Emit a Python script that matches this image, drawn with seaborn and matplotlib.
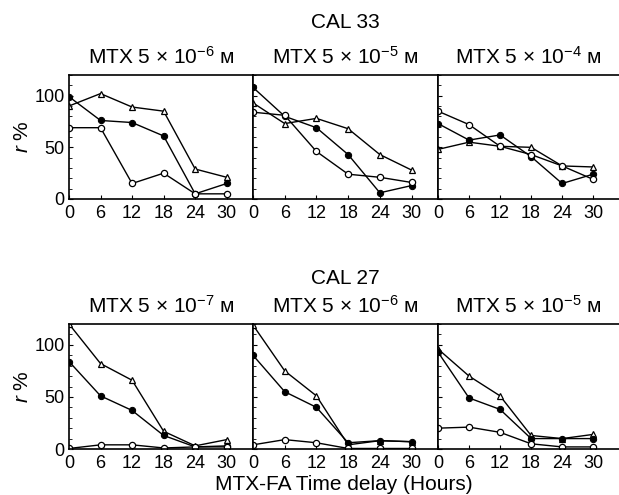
import seaborn as sns
import numpy as np
import pandas as pd
import matplotlib.pyplot as plt

sns.set_style("ticks")
plt.rcParams['font.family'] = ['Liberation Sans', 'DejaVu Sans']
plt.rcParams['mathtext.fontset'] = 'custom'
plt.rcParams['mathtext.rm'] = 'Liberation Sans'
plt.rcParams['mathtext.it'] = 'Liberation Sans:italic'
plt.rcParams['text.color'] = 'k'
plt.rcParams['xtick.color'] = 'k'
plt.rcParams['ytick.color'] = 'k'
plt.rcParams['axes.labelcolor'] = 'k'

hours = [0, 6, 12, 18, 24, 30]

# CAL 33 panels: MTX 5e-6, 5e-5, 5e-4 M
cal33_tri = [[90, 102, 89, 85, 29, 21], [93, 73, 78, 68, 43, 28], [48, 55, 51, 50, 32, 31]]
cal33_fill = [[99, 76, 74, 61, 5, 15], [108, 80, 69, 43, 6, 13], [73, 57, 62, 41, 15, 24]]
cal33_open = [[69, 69, 15, 25, 5, 5], [84, 81, 46, 24, 21, 16], [85, 72, 51, 43, 32, 19]]

# CAL 27 panels: MTX 5e-7, 5e-6, 5e-5 M
cal27_tri = [[120, 82, 66, 17, 3, 9], [119, 75, 51, 4, 8, 7], [96, 70, 51, 13, 10, 14]]
cal27_fill = [[84, 51, 37, 13, 2, 3], [90, 55, 40, 6, 8, 7], [93, 49, 38, 10, 10, 10]]
cal27_open = [[0.5, 4, 4, 1, 2, 2], [4, 9, 6, 0.5, 0.5, 0.5], [20, 21, 16, 5, 2, 2]]

cal33_conc = ["6", "5", "4"]
cal27_conc = ["7", "6", "5"]

fig = plt.figure(figsize=(6.19, 4.95), dpi=100)

lefts = [69 / 619, 253 / 619, 438 / 619]
widths = [184 / 619, 185 / 619, 181 / 619]
row_bottom = [1 - 199 / 495, 1 - 449 / 495]
row_height = [124 / 495, 125 / 495]


def draw_panel(ax, tri, fill, opn):
    df = pd.DataFrame({"h": hours, "tri": tri, "fill": fill, "open": opn})
    sns.lineplot(data=df, x="h", y="tri", ax=ax, color="k", lw=1.0, marker="^",
                 markersize=5, markerfacecolor="white", markeredgecolor="k", markeredgewidth=0.9)
    sns.lineplot(data=df, x="h", y="fill", ax=ax, color="k", lw=1.0, marker="o",
                 markersize=4.5, markerfacecolor="k", markeredgecolor="k")
    sns.lineplot(data=df, x="h", y="open", ax=ax, color="k", lw=1.0, marker="o",
                 markersize=4.5, markerfacecolor="white", markeredgecolor="k", markeredgewidth=0.9)
    ax.set_xlim(0, 35)
    ax.set_ylim(0, 120)
    ax.set_xticks(hours)
    ax.set_yticks([0, 50, 100])
    ax.set_yticks(np.arange(0, 121, 10), minor=True)
    ax.tick_params(direction="in", length=3, labelsize=13, pad=3)
    ax.tick_params(axis="x", pad=4)
    ax.tick_params(which="minor", direction="in", length=2)
    ax.set_xlabel("")
    ax.set_ylabel("")
    for s in ax.spines.values():
        s.set_linewidth(1.2)
        s.set_color("k")


rows = [(cal33_tri, cal33_fill, cal33_open, cal33_conc, "CAL 33", 22),
        (cal27_tri, cal27_fill, cal27_open, cal27_conc, "CAL 27", 278)]

for r, (tri, fill, opn, conc, name, name_y) in enumerate(rows):
    for c in range(3):
        ax = fig.add_axes([lefts[c], row_bottom[r], widths[c], row_height[r]])
        draw_panel(ax, tri[c], fill[c], opn[c])
        if c == 0:
            ax.set_ylabel("$r$ %", fontsize=15, labelpad=2)
        else:
            ax.tick_params(labelleft=False)
        if c == 2:
            ax.spines["right"].set_visible(False)
        ax.set_title("MTX 5 \u00d7 10$^{-%s}$ \u1d0d" % conc[c], fontsize=15, pad=8)
    fig.text(345 / 619, 1 - name_y / 495, name, ha="center", va="center", fontsize=15)

fig.text(344 / 619, 1 - 484 / 495, "MTX-FA Time delay (Hours)", ha="center", va="center", fontsize=15)

plt.savefig("out.png", dpi=100)
